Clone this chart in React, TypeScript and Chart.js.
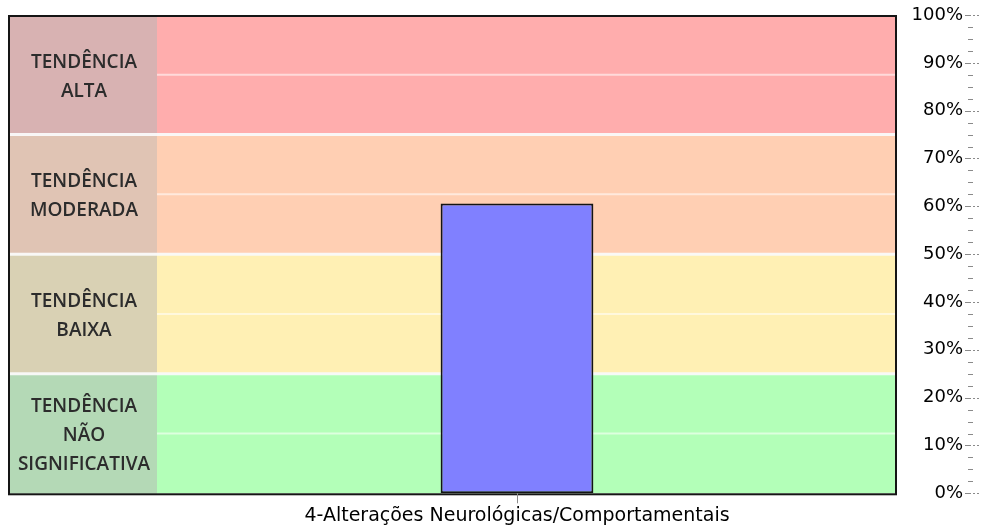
import { useEffect, useRef } from 'react';
import { Chart, registerables } from 'chart.js';

Chart.register(...registerables);

// Category and measured value
const categories = ['4-Alterações Neurológicas/Comportamentais'];
const values = [60.6];

// Percentage axis
const yMin = 0;
const yMax = 100;
const yMajorStep = 10;
const yMinorStep = 2.5;

// Trend bands, from bottom to top
const zoneBounds = [0, 25, 50, 75, 100];
const zoneLabels = [
  ['TENDÊNCIA', 'NÃO', 'SIGNIFICATIVA'],
  ['TENDÊNCIA', 'BAIXA'],
  ['TENDÊNCIA', 'MODERADA'],
  ['TENDÊNCIA', 'ALTA'],
];
const zoneColors = ['#b3ffb8', '#fff0b4', '#ffcfb3', '#ffadad'];
const zoneLabelColors = ['#b4d9b6', '#d9d1b4', '#e0c4b4', '#d8b2b2'];

const BOX_LEFT = 9;
const BOX_RIGHT = 896;
const LABEL_COL_RIGHT = 157;

const bandsPlugin = {
  id: 'trendBands',
  beforeDraw(chart: any) {
    const { ctx } = chart;
    const y = chart.scales.y;
    const top = y.getPixelForValue(yMax);
    const bottom = y.getPixelForValue(yMin);
    ctx.save();
    ctx.filter = 'blur(0.6px)';
    for (let i = 0; i < zoneColors.length; i++) {
      const zt = y.getPixelForValue(zoneBounds[i + 1]);
      const zb = y.getPixelForValue(zoneBounds[i]);
      ctx.fillStyle = zoneColors[i];
      ctx.fillRect(BOX_LEFT, zt, BOX_RIGHT - BOX_LEFT, zb - zt);
      ctx.fillStyle = zoneLabelColors[i];
      ctx.fillRect(BOX_LEFT, zt, LABEL_COL_RIGHT - BOX_LEFT, zb - zt);
      // faint mid line across the coloured part
      const mid = y.getPixelForValue((zoneBounds[i] + zoneBounds[i + 1]) / 2);
      ctx.strokeStyle = 'rgba(255,255,255,0.55)';
      ctx.lineWidth = 2;
      ctx.beginPath();
      ctx.moveTo(LABEL_COL_RIGHT, mid);
      ctx.lineTo(BOX_RIGHT, mid);
      ctx.stroke();
      // band caption
      const lines = zoneLabels[i];
      const lh = 29;
      const cy = (zt + zb) / 2 + 2 - ((lines.length - 1) * lh) / 2;
      ctx.fillStyle = '#2c2c2c';
      ctx.font = '600 19px "Open Sans"';
      ctx.textAlign = 'center';
      ctx.textBaseline = 'middle';
      lines.forEach((t, k) => {
        ctx.fillText(t, (BOX_LEFT + LABEL_COL_RIGHT) / 2 + 1, cy + k * lh);
      });
    }
    // separators between bands
    ctx.strokeStyle = 'rgba(250,250,250,0.95)';
    ctx.lineWidth = 3;
    for (let i = 1; i < zoneBounds.length - 1; i++) {
      const py = y.getPixelForValue(zoneBounds[i]);
      ctx.beginPath();
      ctx.moveTo(BOX_LEFT, py);
      ctx.lineTo(BOX_RIGHT, py);
      ctx.stroke();
    }
    ctx.restore();

    ctx.save();
    ctx.strokeStyle = '#151515';
    ctx.lineWidth = 2;
    ctx.strokeRect(BOX_LEFT, top + 1, BOX_RIGHT - BOX_LEFT, bottom - top);
    ctx.restore();
  },
  afterDraw(chart: any) {
    const { ctx, chartArea } = chart;
    const y = chart.scales.y;
    const ax = chartArea.right;
    ctx.save();
    ctx.strokeStyle = '#8a8a8a';
    ctx.lineWidth = 1;
    for (let v = yMin; v <= yMax + 1e-6; v += yMinorStep) {
      const py = Math.round(y.getPixelForValue(v)) + 0.5;
      ctx.beginPath();
      if (Math.abs(v % yMajorStep) < 1e-6) {
        ctx.setLineDash([]);
        ctx.moveTo(ax - 4, py);
        ctx.lineTo(ax + 2, py);
        ctx.stroke();
        ctx.beginPath();
        ctx.setLineDash([2, 2]);
        ctx.moveTo(ax + 4, py);
        ctx.lineTo(ax + 10, py);
      } else {
        ctx.setLineDash([]);
        ctx.moveTo(ax - 1, py);
        ctx.lineTo(ax + 4, py);
      }
      ctx.stroke();
    }
    ctx.restore();
  },
};

export default function App() {
  const canvasRef = useRef<HTMLCanvasElement | null>(null);

  useEffect(() => {
    if (!canvasRef.current) return;
    const chart = new Chart(canvasRef.current, {
      type: 'bar',
      data: {
        labels: categories,
        datasets: [
          {
            data: values,
            backgroundColor: '#8080ff',
            borderColor: '#141414',
            borderWidth: 2,
            borderSkipped: false,
            barPercentage: 0.169,
            categoryPercentage: 1,
          },
        ],
      },
      options: {
        animation: false,
        responsive: true,
        maintainAspectRatio: false,
        layout: { padding: { left: 65, top: 15, right: 0, bottom: 0 } },
        plugins: { legend: { display: false }, tooltip: { enabled: false } },
        scales: {
          x: {
            offset: true,
            border: { display: false },
            grid: {
              offset: false,
              drawOnChartArea: false,
              drawTicks: true,
              tickLength: 10,
              color: '#8a8a8a',
            },
            ticks: {
              color: '#000000',
              padding: 1,
              maxRotation: 0,
              font: { family: '"DejaVu Sans"', size: 19 },
            },
            afterFit: (s: any) => {
              s.height = 35.7;
            },
          },
          y: {
            position: 'right',
            min: yMin,
            max: yMax,
            border: { display: false },
            grid: { display: false },
            ticks: {
              stepSize: yMajorStep,
              mirror: true,
              padding: -6,
              color: '#000000',
              font: { family: '"DejaVu Sans"', size: 18 },
              callback: (v: any) => `${v}%`,
            },
            afterFit: (s: any) => {
              s.width = 13;
            },
          },
        },
      },
      plugins: [bandsPlugin],
    });
    return () => chart.destroy();
  }, []);

  return (
    <div style={{ position: 'fixed', left: 0, top: 0, width: 982, height: 529, background: '#ffffff' }}>
      <canvas ref={canvasRef} />
    </div>
  );
}
